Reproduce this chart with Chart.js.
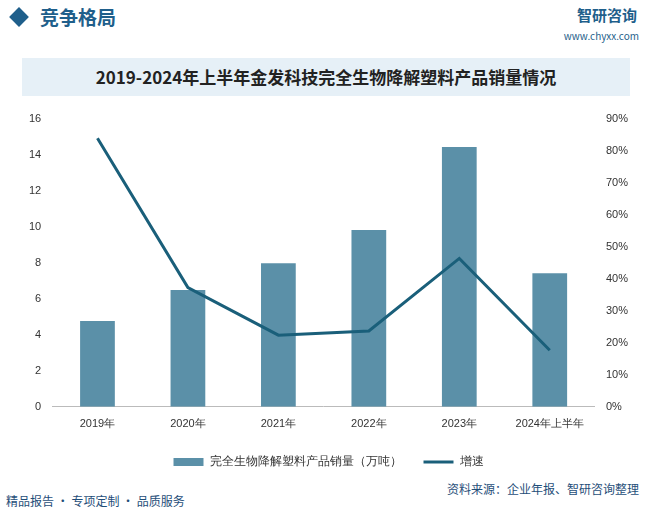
<!DOCTYPE html>
<html><head><meta charset="utf-8">
<script src="https://cdn.jsdelivr.net/npm/chart.js@4"></script>
<style>
body{margin:0;width:653px;height:512px;background:#fff;font-family:"Noto Sans CJK SC",sans-serif;position:relative;overflow:hidden}
#hdr{position:absolute;left:0;top:0;width:653px;height:40px}
#dia{position:absolute;left:12px;top:10px;width:14px;height:14px;background:#1f5f8b;transform:rotate(45deg)}
#ht{position:absolute;left:40px;top:3px;font-size:19px;font-weight:bold;color:#1f5f8b}
#logo{position:absolute;right:16px;top:4px;font-size:15px;color:#1f5f8b;font-weight:bold}
#url{position:absolute;right:14px;top:28px;font-size:10px;color:#1f5f8b}
#ttl{position:absolute;left:22px;top:58px;width:608px;height:38px;background:#e6f0f7;text-align:center;line-height:38px;font-size:17px;font-weight:bold;color:#222}
#wrap{position:absolute;left:0;top:108px;width:653px;height:370px}
#ftr{position:absolute;left:0;top:488px;width:653px;height:24px;font-size:12px;color:#1f4e79}
#fl{position:absolute;left:6px;top:4px}
#fr{position:absolute;right:14px;top:-8px}
</style></head><body>
<div id="hdr"><div id="dia"></div><div id="ht">竞争格局</div><div id="logo">智研咨询</div><div id="url">www.chyxx.com</div></div>
<div id="ttl">2019-2024年上半年金发科技完全生物降解塑料产品销量情况</div>
<div id="wrap"><canvas id="c"></canvas></div>
<div id="ftr"><span id="fl">精品报告 · 专项定制 · 品质服务</span><span id="fr">资料来源：企业年报、智研咨询整理</span></div>
<script>
var categories = ['2019年','2020年','2021年','2022年','2023年','2024年上半年'];
var sales = [4.77, 6.5, 7.98, 9.83, 14.44, 7.42];
var growth = [84, 37.3, 22.4, 23.7, 46.4, 17.7];

new Chart(document.getElementById('c'), {
  data: {
    labels: categories,
    datasets: [
      {type:'line', label:'增速', data:growth, yAxisID:'y1', borderColor:'#1a5f7a', backgroundColor:'#1a5f7a', borderWidth:3, pointRadius:0, pointStyle:'line', order:0},
      {type:'bar', label:'完全生物降解塑料产品销量（万吨）', data:sales, yAxisID:'y', backgroundColor:'#5b90a8', pointStyle:'rect', barPercentage:0.64, categoryPercentage:0.6, order:1}
    ]
  },
  options: {
    responsive:true, maintainAspectRatio:false, animation:false,
    layout:{padding:{left:26,right:22,top:11}},
    plugins:{
      legend:{position:'bottom', reverse:true, labels:{font:{size:12}, color:'#333', usePointStyle:true, pointStyleWidth:30, boxHeight:8, padding:22}},
      tooltip:{enabled:false}
    },
    scales:{
      x:{grid:{display:false}, border:{color:'#bbb'}, ticks:{color:'#333', font:{size:11}}},
      y:{min:0, max:16, ticks:{stepSize:2, color:'#333', font:{size:11}}, grid:{display:false}, border:{display:false}},
      y1:{position:'right', min:0, max:90, ticks:{stepSize:10, color:'#333', font:{size:11}, callback:function(v){return v+'%';}}, grid:{display:false}, border:{display:false}}
    }
  }
});
</script>
</body></html>
